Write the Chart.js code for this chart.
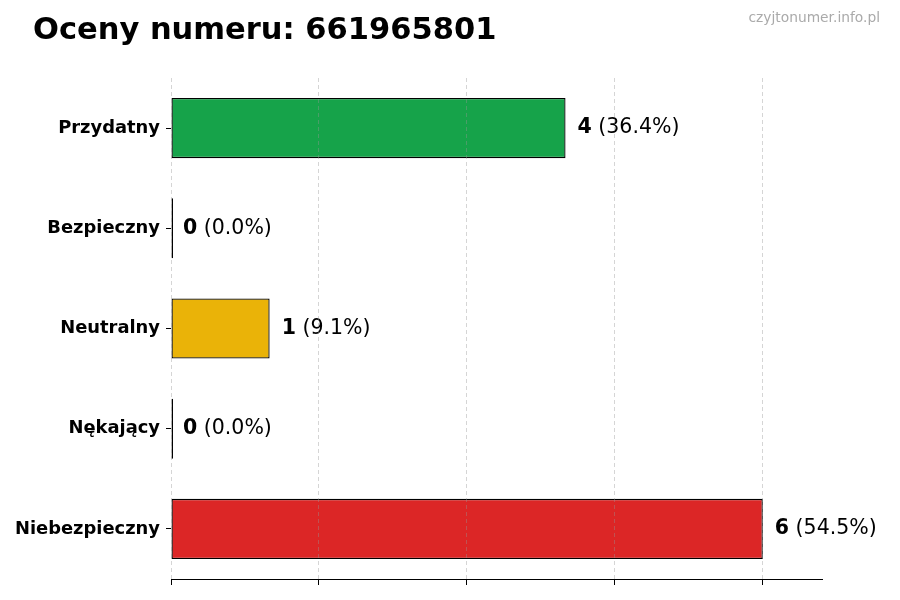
<!DOCTYPE html>
<html>
<head>
<meta charset="utf-8">
<script src="https://cdn.jsdelivr.net/npm/chart.js@4"></script>
<style>
  body { margin: 0; background: #fff; }
  #wrap { position: relative; width: 900px; height: 600px; }
  #title { position: absolute; left: 33px; top: 11px; font: bold 30.5px "DejaVu Sans"; color: #000; }
  #mark { position: absolute; right: 20px; top: 9px; font: 13.8px "DejaVu Sans"; color: #aaa; }
</style>
</head>
<body>
<div id="wrap">
  <canvas id="bar-chart" width="900" height="600"></canvas>
  <div id="title">Oceny numeru: 661965801</div>
  <div id="mark">czyjtonumer.info.pl</div>
</div>
<script>
const categories = ['Przydatny', 'Bezpieczny', 'Neutralny', 'Nękający', 'Niebezpieczny'];
const counts = [4, 0, 1, 0, 6];
const barColors = ['#16a34a', '#2563eb', '#eab308', '#f97316', '#dc2626'];

const total = counts.reduce((a, b) => a + b, 0);

const valueLabels = {
  id: 'valueLabels',
  afterDatasetsDraw(chart) {
    const ctx = chart.ctx;
    const meta = chart.getDatasetMeta(0);
    ctx.save();
    ctx.textBaseline = 'middle';
    ctx.fillStyle = '#000';
    meta.data.forEach((bar, i) => {
      const x = chart.scales.x.getPixelForValue(counts[i]) + 12;
      const y = bar.y;
      const num = String(counts[i]);
      ctx.font = 'bold 20.5px "DejaVu Sans"';
      ctx.fillText(num, x, y);
      const w = ctx.measureText(num).width;
      ctx.font = '20.5px "DejaVu Sans"';
      ctx.fillText(' (' + (counts[i] / total * 100).toFixed(1) + '%)', x + w, y);
    });
    ctx.restore();
  }
};

new Chart(document.getElementById('bar-chart'), {
  type: 'bar',
  data: {
    labels: categories,
    datasets: [{
      data: counts,
      backgroundColor: barColors,
      borderColor: '#000',
      borderWidth: 1.3,
      borderSkipped: false,
      minBarLength: 2,
      barPercentage: 0.6,
      categoryPercentage: 1
    }]
  },
  options: {
    indexAxis: 'y',
    responsive: false,
    animation: false,
    layout: { padding: { left: 0, right: 78, top: 78, bottom: 0 } },
    plugins: {
      legend: { display: false },
      tooltip: { enabled: false }
    },
    scales: {
      x: {
        min: 0,
        max: Math.max(...counts) * 1.1,
        ticks: { display: false, stepSize: 1.5, includeBounds: false },
        grid: {
          z: 1,
          color: 'rgba(150,150,150,0.4)',
          lineWidth: 1,
          tickColor: '#000',
          tickLength: 6,
          tickWidth: 1
        },
        border: { display: true, color: '#000', width: 1, dash: [4, 3], z: 1 },
        afterFit(scale) { scale.height = 21; }
      },
      y: {
        ticks: {
          color: '#000',
          font: { family: 'DejaVu Sans', size: 17.9, weight: 'bold' },
          padding: 6
        },
        grid: {
          offset: false,
          drawOnChartArea: false,
          drawTicks: true,
          tickLength: 5,
          tickColor: '#000'
        },
        border: { display: false },
        afterFit(scale) { scale.width = 171; }
      }
    }
  },
  plugins: [valueLabels]
});
</script>
</body>
</html>
